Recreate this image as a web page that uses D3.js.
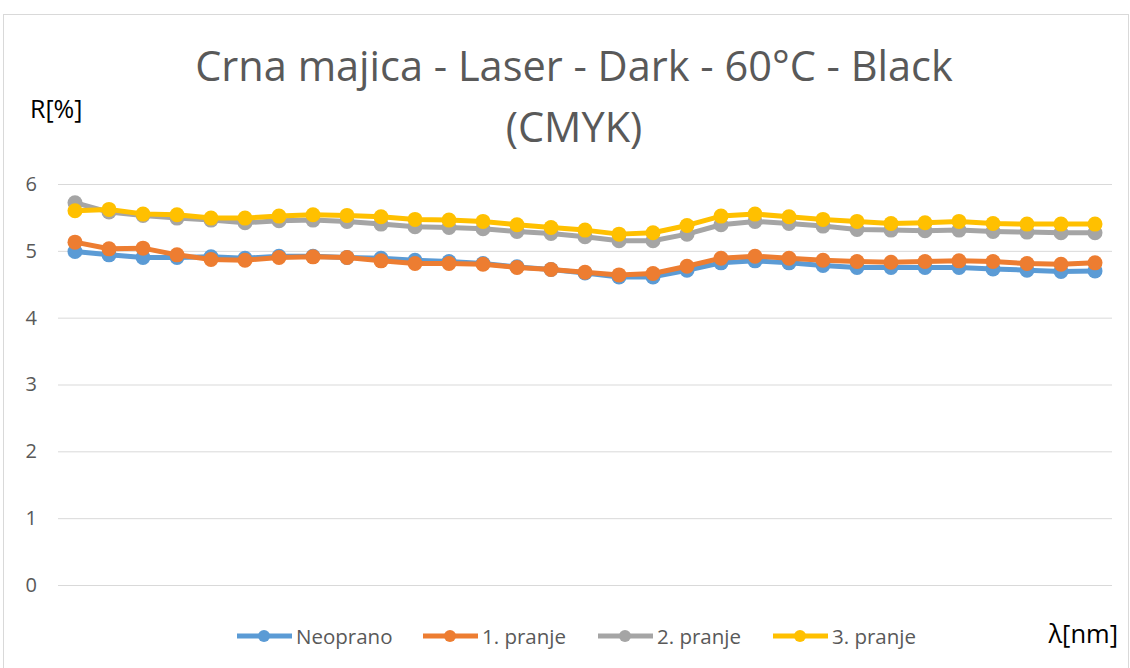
<!DOCTYPE html>
<html>
<head>
<meta charset="utf-8">
<script src="https://cdn.jsdelivr.net/npm/d3@7"></script>
<style>
  html, body { margin: 0; padding: 0; background: #fff; }
  svg { display: block; font-family: "Open Sans", "Noto Sans", sans-serif; }
</style>
</head>
<body>
<svg id="chart" width="1130" height="668"></svg>
<script>
// Wavelengths (nm), one category per measurement
const wavelengths = [400, 410, 420, 430, 440, 450, 460, 470, 480, 490, 500,
  510, 520, 530, 540, 550, 560, 570, 580, 590, 600,
  610, 620, 630, 640, 650, 660, 670, 680, 690, 700];

// Reflectance R[%] for each washing stage
const neoprano = [4.99, 4.94, 4.90, 4.90, 4.91, 4.89, 4.92, 4.92, 4.90, 4.89, 4.86,
  4.84, 4.81, 4.76, 4.72, 4.67, 4.61, 4.61, 4.71, 4.82, 4.85,
  4.82, 4.78, 4.75, 4.75, 4.75, 4.75, 4.73, 4.71, 4.69, 4.70];
const pranje1 = [5.13, 5.03, 5.04, 4.94, 4.87, 4.86, 4.90, 4.91, 4.90, 4.85, 4.81,
  4.81, 4.80, 4.75, 4.72, 4.68, 4.64, 4.66, 4.77, 4.89, 4.92,
  4.89, 4.86, 4.84, 4.83, 4.84, 4.85, 4.84, 4.81, 4.80, 4.82];
const pranje2 = [5.72, 5.58, 5.53, 5.49, 5.46, 5.42, 5.45, 5.46, 5.44, 5.40, 5.36,
  5.35, 5.33, 5.29, 5.26, 5.21, 5.15, 5.15, 5.25, 5.39, 5.44,
  5.41, 5.37, 5.32, 5.31, 5.30, 5.31, 5.29, 5.28, 5.27, 5.27];
const pranje3 = [5.60, 5.62, 5.55, 5.54, 5.49, 5.49, 5.52, 5.54, 5.53, 5.51, 5.47,
  5.46, 5.44, 5.39, 5.35, 5.31, 5.25, 5.27, 5.38, 5.52, 5.55,
  5.51, 5.47, 5.44, 5.41, 5.42, 5.44, 5.41, 5.40, 5.40, 5.40];

const seriesNames = ["Neoprano", "1. pranje", "2. pranje", "3. pranje"];
const seriesColors = ["#5B9BD5", "#ED7D31", "#A5A5A5", "#FFC000"];
const yTicks = [0, 1, 2, 3, 4, 5, 6];

const series = [neoprano, pranje1, pranje2, pranje3].map((vals, i) => ({
  name: seriesNames[i], color: seriesColors[i], values: vals
}));

const svg = d3.select("#chart");

// chart frame
svg.append("rect")
  .attr("x", 3.5).attr("y", 14.5)
  .attr("width", 1125).attr("height", 680)
  .attr("fill", "#fff").attr("stroke", "#d9d9d9").attr("stroke-width", 1);

const plot = { left: 58, right: 1112, top: 184, bottom: 585 };

const x = d3.scaleBand()
  .domain(wavelengths)
  .range([plot.left, plot.right])
  .padding(0);

const y = d3.scaleLinear()
  .domain([0, 6])
  .range([plot.bottom, plot.top]);

// horizontal gridlines + value labels
const yAxis = d3.axisLeft(y)
  .tickValues(yTicks)
  .tickSize(-(plot.right - plot.left))
  .tickPadding(21)
  .tickFormat(d3.format("d"));

const gy = svg.append("g")
  .attr("transform", `translate(${plot.left},0)`)
  .call(yAxis);
gy.select(".domain").remove();
gy.selectAll(".tick line").attr("stroke", "#d9d9d9").attr("stroke-width", 1);
gy.selectAll(".tick text")
  .attr("fill", "#595959")
  .attr("font-size", 20)
  .attr("font-family", "'Open Sans', sans-serif");

// series lines and markers
const line = d3.line()
  .x((d, i) => x(wavelengths[i]) + x.bandwidth() / 2)
  .y(d => y(d));

const gSeries = svg.append("g");
series.forEach(s => {
  const g = gSeries.append("g");
  g.append("path")
    .datum(s.values)
    .attr("d", line)
    .attr("fill", "none")
    .attr("stroke", s.color)
    .attr("stroke-width", 5)
    .attr("stroke-linejoin", "round");
  g.selectAll("circle")
    .data(s.values)
    .join("circle")
    .attr("cx", (d, i) => x(wavelengths[i]) + x.bandwidth() / 2)
    .attr("cy", d => y(d))
    .attr("r", 7.5)
    .attr("fill", s.color);
});

// title
const title = svg.append("text")
  .attr("text-anchor", "middle")
  .attr("fill", "#595959")
  .attr("font-size", 41.5);
title.append("tspan").attr("x", 574).attr("y", 81)
  .text("Crna majica - Laser - Dark - 60°C - Black");
title.append("tspan").attr("x", 574).attr("y", 142)
  .text("(CMYK)");

// axis captions
svg.append("text")
  .attr("x", 30).attr("y", 118)
  .attr("fill", "#000")
  .attr("font-size", 25)
  .text("R[%]");

svg.append("text")
  .attr("x", 1118).attr("y", 643)
  .attr("text-anchor", "end")
  .attr("fill", "#000")
  .attr("font-size", 25.5)
  .text("λ[nm]");

// legend
const legendX = [237, 423, 598, 773];
const legend = svg.append("g");
series.forEach((s, i) => {
  const g = legend.append("g").attr("transform", `translate(${legendX[i]},636)`);
  g.append("line")
    .attr("x1", 0).attr("x2", 55)
    .attr("y1", 0).attr("y2", 0)
    .attr("stroke", s.color).attr("stroke-width", 5);
  g.append("circle")
    .attr("cx", 27).attr("cy", 0).attr("r", 6)
    .attr("fill", s.color);
  g.append("text")
    .attr("x", 59).attr("y", 7.5)
    .attr("fill", "#595959")
    .attr("font-size", 20.5)
    .text(s.name);
});
</script>
</body>
</html>
